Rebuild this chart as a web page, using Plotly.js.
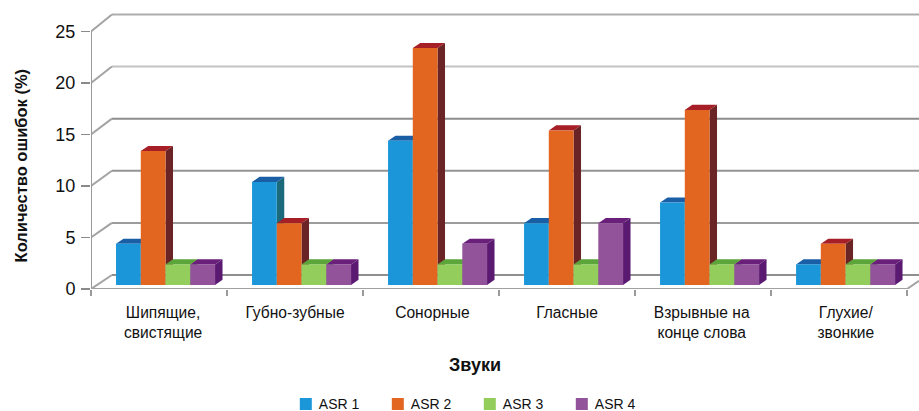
<!DOCTYPE html>
<html>
<head>
<meta charset="utf-8">
<script src="https://cdn.plot.ly/plotly-3.0.1.min.js"></script>
<style>html,body{margin:0;padding:0;background:#fff}</style>
</head>
<body>
<div id="chart" style="width:919px;height:411px"></div>
<script>
// Error share per sound class, for each speech recogniser
const categories = ['Шипящие,<br>свистящие', 'Губно-зубные', 'Сонорные', 'Гласные', 'Взрывные на<br>конце слова', 'Глухие/<br>звонкие'];
const asr1 = [4, 10, 14, 6, 8, 2];
const asr2 = [13, 6, 23, 15, 17, 4];
const asr3 = [2, 2, 2, 2, 2, 2];
const asr4 = [2, 2, 4, 6, 2, 2];
const seriesNames = ['ASR 1', 'ASR 2', 'ASR 3', 'ASR 4'];
const yTicks = [0, 5, 10, 15, 20, 25];
const gridGreys = ['#8f8f8f', '#9c9c9c', '#949494', '#8c8c8c', '#c2c2c2', '#adadad'];

// Face colours: front, top, right side
const frontColors = ['#1b97d9', '#e2661f', '#93cd5c', '#93539b'];
const topColors = ['#1a5ea6', '#a61e26', '#5ba53a', '#6a1f7a'];
const sideColors = ['#1b6a7c', '#6b2426', '#4f8f35', '#5a1a72'];

// Pseudo-3D geometry, in axis units
const XMAX = 6.088, YMAX = 28.06;
const barWidth = 0.182, groupStart = 0.184;
const barLift = 0.39, depthX = 0.055, depthY = 0.5;
const wallX = 0.154, wallRise = 1.36, wallScale = 1.012;
const labelCentres = [0.53, 1.5, 2.51, 3.5, 4.49, 5.55];

const series = [asr1, asr2, asr3, asr4];
const shapes = [];

function line(x0, y0, x1, y1, color) {
  shapes.push({type: 'line', xref: 'x', yref: 'y', layer: 'below', x0, y0, x1, y1,
    line: {color, width: 2}});
}
function face(points, color) {
  const path = 'M' + points.map(p => p[0] + ',' + p[1]).join(' L') + ' Z';
  shapes.push({type: 'path', xref: 'x', yref: 'y', layer: 'below', path,
    fillcolor: color, line: {width: 0}});
}

// Back wall and its links to the front axis
yTicks.forEach((t, i) => {
  const back = t * wallScale + wallRise;
  line(wallX, back, XMAX, back, gridGreys[i]);
  line(0, t, wallX, back, '#a3a3a3');
});
line(0, 0, 0, 25, '#9a9a9a');
line(0, 0, 6, 0, '#a0a0a0');
line(6, 0, XMAX, 0.8, '#a3a3a3');

// Top and side faces sit behind the bar fronts, painted left to right
series.forEach((vals, s) => {
  vals.forEach((v, c) => {
    const x0 = c + groupStart + s * barWidth, x1 = x0 + barWidth;
    const y0 = barLift, y1 = barLift + v;
    face([[x1, y0], [x1 + depthX, y0 + depthY], [x1 + depthX, y1 + depthY], [x1, y1]], sideColors[s]);
    face([[x0, y1], [x1, y1], [x1 + depthX, y1 + depthY], [x0 + depthX, y1 + depthY]], topColors[s]);
  });
});

const traces = series.map((vals, s) => ({
  type: 'bar',
  name: seriesNames[s],
  x: vals.map((_, c) => c),
  y: vals,
  base: vals.map(() => barLift),
  offset: groupStart + s * barWidth,
  width: barWidth,
  marker: {color: frontColors[s], line: {width: 0}},
  hoverinfo: 'name+y'
}));

const layout = {
  width: 919, height: 411, autosize: false,
  margin: {l: 91, r: 0, t: 0, b: 122, pad: 0},
  paper_bgcolor: '#fff', plot_bgcolor: '#fff',
  font: {family: '"Liberation Sans", Arial, sans-serif', color: '#111'},
  barmode: 'overlay',
  shapes,
  // Axis captions are centred on the drawn axes, not on the full plot box
  annotations: [
    {text: '<b>Количество ошибок (%)</b>', textangle: -90, font: {size: 16.5}, showarrow: false,
     xref: 'paper', x: -70 / 828, xanchor: 'center', yref: 'y', y: 12, yanchor: 'middle'},
    {text: '<b>Звуки</b>', font: {size: 18}, showarrow: false,
     xref: 'x', x: 2.826, xanchor: 'center', yref: 'paper', y: -76 / 289, yanchor: 'middle'}
  ],
  xaxis: {
    range: [0, XMAX], showgrid: false, zeroline: false, showline: false,
    tickmode: 'array', tickvals: labelCentres, ticktext: categories,
    ticks: '', ticklabelstandoff: 12, tickfont: {size: 15.6},
    minor: {tickmode: 'array', tickvals: [0, 1, 2, 3, 4, 5, 6], ticks: 'outside', ticklen: 6, tickwidth: 1.6, tickcolor: '#9a9a9a', showgrid: false}
  },
  yaxis: {
    range: [0, YMAX], showgrid: false, zeroline: false, showline: false,
    tickmode: 'array', tickvals: yTicks,
    ticks: 'outside', ticklen: 9, tickwidth: 1.6, tickcolor: '#8a8a8a',
    ticklabelstandoff: 2, tickfont: {size: 18}
  },
  legend: {
    orientation: 'h', xref: 'container', yref: 'container',
    x: 0.311, xanchor: 'left', y: 0.055, yanchor: 'top',
    font: {size: 14}, entrywidth: 47, entrywidthmode: 'pixels', traceorder: 'normal'
  }
};

Plotly.newPlot('chart', traces, layout, {displayModeBar: false, staticPlot: true}).then(() => {
  // Close the gap between each legend swatch and its label
  document.querySelectorAll('#chart .legendtext').forEach(t => t.setAttribute('x', 33));
});
</script>
</body>
</html>
